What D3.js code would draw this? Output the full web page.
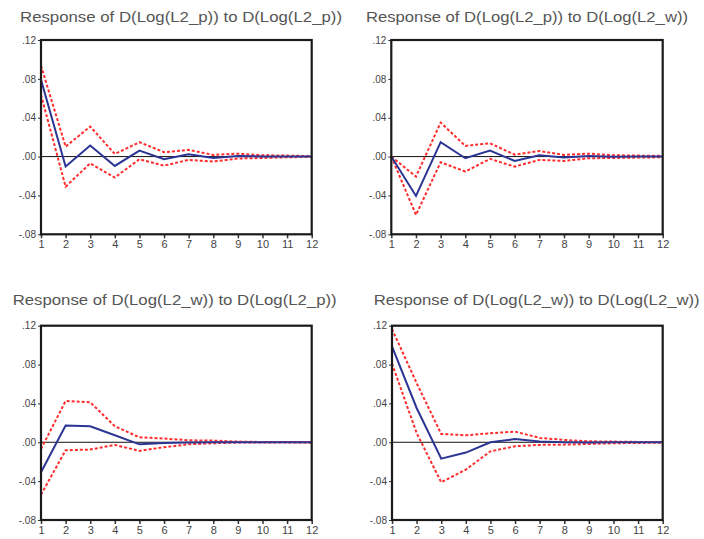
<!DOCTYPE html>
<html><head><meta charset="utf-8">
<script src="https://cdn.jsdelivr.net/npm/d3@7"></script>
<style>body{margin:0;background:#fff}svg{display:block}</style>
</head><body>
<svg id="c" width="704" height="539"></svg>
<script>
const periods = [1,2,3,4,5,6,7,8,9,10,11,12];
const yTicks = [-0.08,-0.04,0,0.04,0.08,0.12];
const titles = [
  "Response of D(Log(L2_p)) to D(Log(L2_p))",
  "Response of D(Log(L2_p)) to D(Log(L2_w))",
  "Response of D(Log(L2_w)) to D(Log(L2_p))",
  "Response of D(Log(L2_w)) to D(Log(L2_w))"
];
// panel 1: p to p
const resp1  = [0.079,-0.0103,0.0113,-0.0096,0.0062,-0.0027,0.0024,-0.0014,0.0005,0.0002,0.0001,0.0];
const upper1 = [0.0937,0.0103,0.0309,0.0027,0.0148,0.0045,0.0069,0.0017,0.003,0.0014,0.001,0.0005];
const lower1 = [0.0635,-0.031,-0.0069,-0.0216,-0.0027,-0.0093,-0.0034,-0.0051,-0.002,-0.0014,-0.0007,-0.0003];
// panel 2: p to w
const resp2  = [0.0,-0.0405,0.0148,-0.0017,0.0062,-0.0045,0.0014,-0.001,0.0007,-0.0003,0.0,0.0];
const upper2 = [0.0,-0.0206,0.035,0.011,0.0137,0.002,0.0058,0.0017,0.003,0.0014,0.001,0.0007];
const lower2 = [0.0,-0.06,-0.0058,-0.0154,-0.0024,-0.0103,-0.0034,-0.0045,-0.0017,-0.0014,-0.001,-0.0007];
// panel 3: w to p
const resp3  = [-0.0309,0.0172,0.0165,0.0072,-0.0021,-0.0007,-0.0003,0.0,0.0,0.0,0.0,0.0];
const upper3 = [-0.0069,0.0425,0.0412,0.0165,0.0051,0.0038,0.0021,0.0017,0.0007,0.0003,0.0002,0.0001];
const lower3 = [-0.0539,-0.0082,-0.0075,-0.0027,-0.0089,-0.0051,-0.0021,-0.001,-0.0003,-0.0002,-0.0001,-0.0001];
// panel 4: w to w
const resp4  = [0.0988,0.0353,-0.0168,-0.0106,0.0,0.0034,0.0007,0.0,-0.0003,0.0,0.0,0.0];
const upper4 = [0.1166,0.061,0.0086,0.0072,0.0093,0.011,0.0045,0.0024,0.001,0.0007,0.0004,0.0003];
const lower4 = [0.081,0.0096,-0.0412,-0.0281,-0.0093,-0.0041,-0.0027,-0.0024,-0.0017,-0.001,-0.0007,-0.0004];

const panels = [
  {title:titles[0], r:resp1, u:upper1, l:lower1, x0:41, x1:311.7, y0:40, y1:234.3, tx:20, tw:322, ty:22},
  {title:titles[1], r:resp2, u:upper2, l:lower2, x0:391.3, x1:662.7, y0:40, y1:234.3, tx:366, tw:322, ty:22},
  {title:titles[2], r:resp3, u:upper3, l:lower3, x0:41, x1:311.7, y0:325.7, y1:520, tx:12.7, tw:324, ty:305},
  {title:titles[3], r:resp4, u:upper4, l:lower4, x0:392, x1:662.7, y0:325.7, y1:520, tx:373.7, tw:326, ty:305}
];

const svg = d3.select("#c");
const fmt = v => v === 0 ? ".00" : (v < 0 ? "-" : "") + d3.format(".2f")(Math.abs(v)).replace(/^0/, "");

panels.forEach(p => {
  const g = svg.append("g");
  const x = d3.scaleLinear().domain([1,12]).range([p.x0,p.x1]);
  const y = d3.scaleLinear().domain([-0.08,0.12]).range([p.y1,p.y0]);

  g.append("text").attr("x",p.tx).attr("y",p.ty)
    .attr("font-family","Liberation Sans, Arial, sans-serif").attr("font-size",15)
    .attr("fill","#555").attr("textLength",p.tw).attr("lengthAdjust","spacingAndGlyphs")
    .text(p.title);

  const ya = d3.axisLeft(y).tickValues(yTicks).tickFormat(fmt).tickSize(3).tickPadding(2);
  const yg = g.append("g").attr("transform",`translate(${p.x0},0)`).call(ya);
  yg.select(".domain").remove();
  yg.selectAll("text").attr("font-family","Liberation Sans, Arial, sans-serif").attr("font-size",10).attr("fill","#444");
  yg.selectAll("line").attr("stroke","#333");

  const xa = d3.axisBottom(x).tickValues(periods).tickFormat(d3.format("d")).tickSize(4).tickPadding(2);
  const xg = g.append("g").attr("transform",`translate(0,${p.y1})`).call(xa);
  xg.select(".domain").remove();
  xg.selectAll("text").attr("font-family","Liberation Sans, Arial, sans-serif").attr("font-size",11).attr("fill","#444");
  xg.selectAll("line").attr("stroke","#333").attr("stroke-width",1.5);

  g.append("line").attr("x1",p.x0).attr("x2",p.x1).attr("y1",y(0)).attr("y2",y(0))
    .attr("stroke","#111").attr("stroke-width",1);

  const line = d3.line().x((d,i)=>x(periods[i])).y(d=>y(d));
  g.append("path").attr("d",line(p.u)).attr("fill","none").attr("stroke","#ff2d2d")
    .attr("stroke-width",2).attr("stroke-dasharray","3,2");
  g.append("path").attr("d",line(p.l)).attr("fill","none").attr("stroke","#ff2d2d")
    .attr("stroke-width",2).attr("stroke-dasharray","3,2");
  g.append("path").attr("d",line(p.r)).attr("fill","none").attr("stroke","#2b3593")
    .attr("stroke-width",2);

  g.append("rect").attr("x",p.x0).attr("y",p.y0).attr("width",p.x1-p.x0).attr("height",p.y1-p.y0)
    .attr("fill","none").attr("stroke","#1a1a1a").attr("stroke-width",2.2);
});
</script>
</body></html>
